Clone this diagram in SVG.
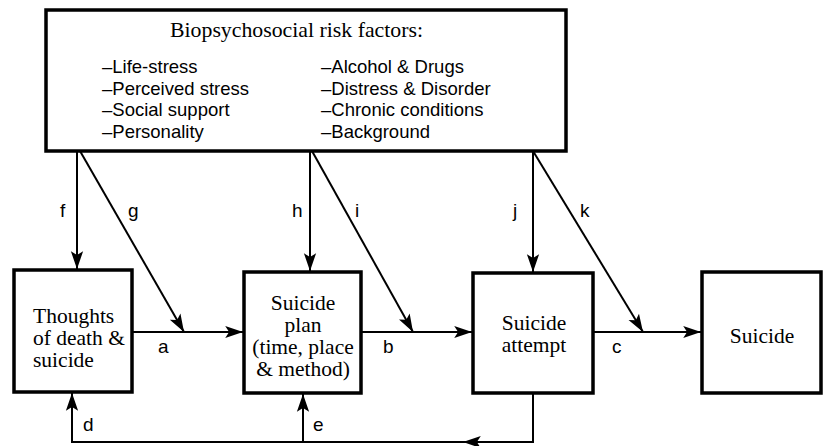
<svg xmlns="http://www.w3.org/2000/svg" width="824" height="446" viewBox="0 0 824 446">
  <defs>
    <style>
      .box { fill: #fff; stroke: #000; stroke-width: 3.5; }
      .ln { fill: none; stroke: #000; stroke-width: 2; stroke-linejoin: miter; }
      .serif { font-family: "Liberation Serif", "Times New Roman", serif; fill: #000; }
      .sans { font-family: "Liberation Sans", Arial, sans-serif; fill: #000; }
      .title { font-size: 21.8px; }
      .item { font-size: 18.5px; }
      .node { font-size: 21.5px; }
      .lbl { font-size: 19px; }
    </style>
    <marker id="ah" markerUnits="userSpaceOnUse" markerWidth="20" markerHeight="16" viewBox="-17 -7 18 14" refX="0" refY="0" orient="auto">
      <path d="M0,0 L-16,-5.5 L-12.5,0 L-16,5.5 Z" fill="#000"/>
    </marker>
  </defs>
  <rect width="824" height="446" fill="#fff"/>

  <g id="risk-factors">
    <rect class="box" x="46" y="10" width="520" height="141"/>
    <text class="serif title" x="170" y="37">Biopsychosocial risk factors:</text>
    <g class="sans item">
      <text x="102" y="73">–Life-stress</text>
      <text x="102" y="95">–Perceived stress</text>
      <text x="102" y="116">–Social support</text>
      <text x="102" y="138">–Personality</text>
      <text x="321" y="73">–Alcohol &amp; Drugs</text>
      <text x="321" y="95">–Distress &amp; Disorder</text>
      <text x="321" y="116">–Chronic conditions</text>
      <text x="321" y="138">–Background</text>
    </g>
  </g>

  <g id="thoughts">
    <rect class="box" x="14" y="270" width="118" height="122"/>
    <g class="serif node">
      <text x="33" y="323">Thoughts</text>
      <text x="33" y="345">of death &amp;</text>
      <text x="33" y="367">suicide</text>
    </g>
  </g>

  <g id="plan">
    <rect class="box" x="244" y="272" width="117" height="121"/>
    <g class="serif node" text-anchor="middle">
      <text x="303" y="310">Suicide</text>
      <text x="303" y="332">plan</text>
      <text x="303" y="354">(time, place</text>
      <text x="303" y="376">&amp; method)</text>
    </g>
  </g>

  <g id="attempt">
    <rect class="box" x="473" y="273" width="120" height="120"/>
    <g class="serif node" text-anchor="middle">
      <text x="534" y="330">Suicide</text>
      <text x="534" y="352">attempt</text>
    </g>
  </g>

  <g id="suicide">
    <rect class="box" x="702" y="272" width="119" height="121"/>
    <text class="serif node" x="762" y="343" text-anchor="middle">Suicide</text>
  </g>

  <g id="connectors">
    <path class="ln" d="M77,151 L77,269" marker-end="url(#ah)"/>
    <path class="ln" d="M80,151 L184,332" marker-end="url(#ah)"/>
    <path class="ln" d="M132,332 L243,332" marker-end="url(#ah)"/>
    <path class="ln" d="M310,151 L310,271" marker-end="url(#ah)"/>
    <path class="ln" d="M312,151 L413,332" marker-end="url(#ah)"/>
    <path class="ln" d="M361,332 L472,332" marker-end="url(#ah)"/>
    <path class="ln" d="M533,151 L533,272" marker-end="url(#ah)"/>
    <path class="ln" d="M533,151 L643,332" marker-end="url(#ah)"/>
    <path class="ln" d="M593,332 L701,332" marker-end="url(#ah)"/>
    <path class="ln" d="M533,393 L533,442 L463,442" marker-end="url(#ah)"/>
    <path class="ln" d="M464,442 L72,442 L72,393" marker-end="url(#ah)"/>
    <path class="ln" d="M303,442 L303,394" marker-end="url(#ah)"/>
    <g class="sans lbl">
      <text x="60" y="217">f</text>
      <text x="128" y="217">g</text>
      <text x="292" y="217">h</text>
      <text x="355" y="217">i</text>
      <text x="513" y="217">j</text>
      <text x="580" y="217">k</text>
      <text x="158" y="353">a</text>
      <text x="383" y="353">b</text>
      <text x="612" y="353">c</text>
      <text x="83" y="431">d</text>
      <text x="313" y="431">e</text>
    </g>
  </g>
</svg>
